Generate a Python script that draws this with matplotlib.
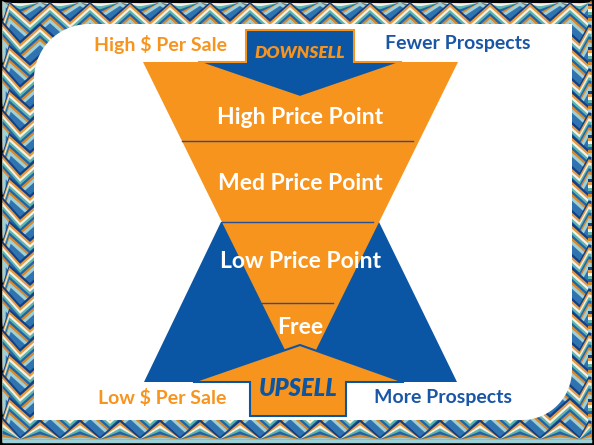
import numpy as np
import matplotlib.pyplot as plt
from matplotlib.patches import Polygon

W, H = 594, 445
orange = "#f7941e"
blue = "#0b56a4"
text_blue = "#1a56a6"
line_blue = "#2a4f8f"

# diagram geometry (pixel coordinates, y going down)
funnel = [(143, 62), (458, 62), (316, 350), (285, 350)]
blue_base = [(221, 222), (379, 222), (457, 382), (144, 382)]
downsell = [(246, 30), (354, 30), (354, 62), (402, 62), (300, 97), (198, 62), (246, 62)]
upsell = [(193, 382), (300, 345), (404, 382), (346, 382), (346, 416), (250, 416), (250, 382)]
divider_y = [141, 222, 303]

levels = ["High Price Point", "Med Price Point", "Low Price Point", "Free"]
level_y = [117, 184, 262, 328]
corner_labels = ["High $ Per Sale", "Fewer Prospects", "Low $ Per Sale", "More Prospects"]
corner_xy = [(161, 44), (458, 44), (162, 398), (443, 398)]
corner_colors = [orange, text_blue, orange, text_blue]

fig = plt.figure(figsize=(W / 100, H / 100), dpi=100)
ax = fig.add_axes([0, 0, 1, 1])
ax.set_xlim(0, W)
ax.set_ylim(H, 0)
ax.axis("off")

# patterned border
ax.add_patch(plt.Rectangle((0, 0), W, H, color="black", zorder=0))
ax.add_patch(plt.Rectangle((4, 4), W - 8, H - 8, color="#2f73b0", zorder=0))
pat_colors = ["#123f86", "#e39a42", "#f4f1e8", "#5fb5ab", "#1f63ad", "#d68a2e", "#9fd0d8"]
step = 20
xs = np.arange(-step, W + step * 2, step)
for row, base in enumerate(np.arange(-10, H + 30, 22)):
    shift = (row % 2) * step / 2
    for k, c in enumerate(pat_colors):
        ys = base + k * 3 + np.where((np.arange(len(xs)) % 2) == 0, 9, -9)
        ax.plot(np.clip(xs + shift, 4, W - 4), np.clip(ys, 4, H - 4),
                color=c, lw=2.2, zorder=1, solid_joinstyle="miter")

# white panel with two rounded corners
x0, x1, y0, y1 = 34, 572, 24, 420
r1, r2 = 55, 50
t = np.linspace(0, np.pi / 2, 20)
pts = [(x0 + r1, y0), (x1, y0), (x1, y1 - r2)]
pts += [(x1 - r2 + r2 * np.cos(a), y1 - r2 + r2 * np.sin(a)) for a in t]
pts += [(x0, y1), (x0, y0 + r1)]
pts += [(x0 + r1 - r1 * np.cos(a), y0 + r1 - r1 * np.sin(a)) for a in t]
ax.add_patch(Polygon(pts, closed=True, fc="white", ec="none", zorder=2))

# shapes
ax.add_patch(Polygon(blue_base, closed=True, fc=blue, ec="none", zorder=3))
ax.add_patch(Polygon(funnel, closed=True, fc=orange, ec="none", zorder=4))
fx_left = [funnel[0][0], funnel[3][0]]
fy = [funnel[0][1], funnel[3][1]]
for y in divider_y:
    xl = np.interp(y, fy, fx_left)
    ax.plot([xl, W - xl + 1], [y, y], color=line_blue, lw=1, zorder=5)
ax.add_patch(Polygon(downsell, closed=True, fc=blue, ec=orange, lw=1.5, zorder=6))
ax.add_patch(Polygon(upsell, closed=True, fc=orange, ec=blue, lw=1.5, zorder=6))

# texts
for lab, y in zip(levels, level_y):
    ax.text(300, y, lab, color="white", fontsize=16.5, family="Lato", weight="bold",
            ha="center", va="center", zorder=7)
for lab, (x, y), c in zip(corner_labels, corner_xy, corner_colors):
    ax.text(x, y, lab, color=c, fontsize=14, family="Lato", weight="bold",
            ha="center", va="center", zorder=7)
ax.text(300, 53, "DOWNSELL", color=orange, fontsize=12.5, family="Lato", weight="heavy",
        style="italic", ha="center", va="center", zorder=7)
ax.text(298, 389, "UPSELL", color=blue, fontsize=17, family="Lato", weight="heavy",
        style="italic", ha="center", va="center", zorder=7)

fig.savefig("out.png", dpi=100)
